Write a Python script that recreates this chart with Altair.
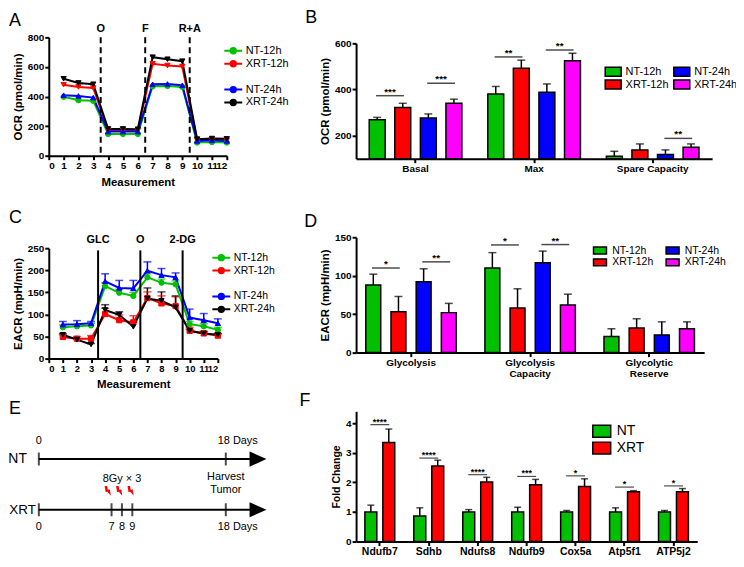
import altair as alt
import pandas as pd

FONT = "Liberation Sans"
GREEN = "#00c000"
RED = "#ff0000"
BLUE = "#0000ff"
MAGENTA = "#ff00ff"
BLACK = "#000000"

# ---------------- Panel A : OCR time course ----------------
measure = list(range(1, 13))
A_nt12 = [398, 375, 371, 147, 147, 147, 469, 471, 465, 89, 92, 89]
A_xrt12 = [480, 465, 458, 174, 174, 170, 621, 610, 603, 103, 107, 103]
A_nt24 = [409, 404, 393, 163, 163, 163, 483, 485, 476, 100, 104, 100]
A_xrt24 = [520, 492, 483, 181, 181, 179, 666, 652, 639, 112, 116, 114]
A_inj_x = [3.5, 6.5, 9.5]
A_inj_lab = ["O", "F", "R+A"]

# ---------------- Panel C : ECAR time course ----------------
C_nt12 = [71, 73, 75, 164, 149, 142, 184, 172, 168, 78, 73, 65]
C_nt12_err = [5, 5, 5, 8, 8, 8, 8, 8, 8, 6, 6, 6]
C_xrt12 = [49, 45, 45, 101, 87, 82, 137, 125, 119, 63, 57, 52]
C_xrt12_err = [5, 5, 7, 13, 12, 15, 14, 17, 21, 8, 5, 4]
C_nt24 = [77, 78, 80, 175, 160, 159, 199, 189, 184, 93, 87, 80]
C_nt24_err = [7, 8, 4, 17, 17, 18, 20, 15, 10, 19, 15, 10]
C_xrt24 = [54, 43, 32, 110, 99, 72, 136, 131, 116, 63, 57, 54]
C_xrt24_err = [3, 2, 2, 12, 7, 10, 24, 20, 26, 3, 3, 3]
C_inj_x = [3.5, 6.5, 9.5]
C_inj_lab = ["GLC", "O", "2-DG"]

series = ["NT-12h", "XRT-12h", "NT-24h", "XRT-24h"]
leg_dom = ["NT-12h", "XRT-12h", " ", "NT-24h", "XRT-24h"]

# ---------------- Panel B : OCR bars ----------------
B_groups = ["Basal", "Max", "Spare Capacity"]
B_basal = [269, 322, 276, 340]
B_basal_top = [279, 340, 294, 358]
B_max = [380, 492, 388, 524]
B_max_top = [413, 527, 424, 557]
B_spare = [111, 138, 118, 150]
B_spare_top = [132, 164, 138, 164]
B_sig_group = ["Basal", "Basal", "Max", "Max", "Spare Capacity"]
B_sig_pair = ["12h", "24h", "12h", "24h", "24h"]
B_sig_y = [373, 427, 541, 571, 188]
B_sig_txt = ["***", "***", "**", "**", "**"]

# ---------------- Panel D : ECAR bars ----------------
D_groups = ["Glycolysis", "Glycolysis Capacity", "Glycolytic Reserve"]
D_glyco = [88, 53, 92, 52]
D_glyco_top = [102, 73, 109, 64]
D_cap = [110, 58, 117, 62]
D_cap_top = [130, 83, 132, 76]
D_res = [21, 32, 23, 31]
D_res_top = [31, 44, 40, 40]
D_sig_group = ["Glycolysis", "Glycolysis", "Glycolysis Capacity", "Glycolysis Capacity"]
D_sig_pair = ["12h", "24h", "12h", "24h"]
D_sig_y = [110, 118, 140, 140.5]
D_sig_txt = ["*", "**", "*", "**"]

# ---------------- Panel F : fold change ----------------
F_genes = ["Ndufb7", "Sdhb", "Ndufs8", "Ndufb9", "Cox5a", "Atp5f1", "ATP5j2"]
F_nt = [1.0, 0.86, 1.0, 1.0, 1.0, 1.0, 1.0]
F_nt_top = [1.23, 1.14, 1.08, 1.16, 1.05, 1.14, 1.05]
F_xrt = [3.35, 2.55, 2.01, 1.92, 1.86, 1.68, 1.68]
F_xrt_top = [3.8, 2.75, 2.17, 2.10, 2.12, 1.72, 1.79]
F_sig_y = [3.95, 2.82, 2.26, 2.2, 2.22, 1.84, 1.88]
F_sig_txt = ["****", "****", "****", "***", "*", "*", "*"]

# ---------------- Panel E : schedule ----------------
E_rows = ["NT", "XRT"]
E_row_y = [1, 0]
E_end_day = 20.5
E_head_day = 21.1
E_tick_day = [0, 18, 0, 7, 8, 9, 18]
E_tick_row = [1, 1, 0, 0, 0, 0, 0]
E_above_lab = ["0"]
E_above_day = [0]
E_below_lab = ["0", "7", "8", "9"]
E_below_day = [0, 7, 8, 9]
E_days_lab = ["18 Days", "18 Days"]
E_days_day = [18, 18]
E_days_row = [1, 0]
E_bolt_day = [6.6, 7.7, 8.8]
E_dose_lab = "8Gy × 3"
E_dose_day = 8
E_harvest_lab = ["Harvest", "Tumor"]
E_harvest_day = 18

LINE_SYM = "M-2,0L2,0M0.6,0A0.6,0.6,0,1,1,-0.6,0A0.6,0.6,0,1,1,0.6,0"
BOLT = "M-0.55,-1L-0.05,-1L0.1,-0.2L0.5,-0.25L0.7,1L0.0,0.2L-0.35,0.25Z"
HEAD = "M-1,-0.9L1,0L-1,0.9Z"


def rect_sym(a):
    return f"M-{a},-1L{a},-1L{a},1L-{a},1Z"


def title(letter, dx, dy):
    return alt.TitleParams(letter, anchor="start", frame="group", fontSize=18,
                           fontWeight="normal", font=FONT, dx=dx, dy=dy, color="black")


def line_panel(vals_list, err_list, inj_x, inj_lab, inj_top, lab_y, ydom, yrange, yvals,
               ytitle, xoff, shapes, leg, dashed, width, height, xlab):
    has_err = err_list is not None
    errs_all = err_list if has_err else [[0] * 12 for _ in series]
    rows = []
    for name, vals, errs in zip(series, vals_list, errs_all):
        for m, v, e in zip(measure, vals, errs):
            rows.append({"m": m, "v": v, "s": name, "t": v + e, "sh": name})
    df = pd.DataFrame(rows)
    inj = pd.DataFrame({"m": inj_x, "lab": inj_lab, "v": [inj_top] * 3,
                        "lv": [lab_y] * 3, "b": [0] * 3})
    xsc = alt.Scale(domain=[0, 12], nice=False)
    xax = alt.Axis(values=list(range(13)), title="Measurement", offset=xoff, labelOverlap=False,
                   labelFontSize=xlab, titlePadding=6)
    ysc = alt.Scale(domain=ydom, range=yrange, nice=False)
    yax = alt.Axis(values=yvals, title=ytitle, labelOverlap=False)
    X = lambda f: alt.X(f, scale=xsc, axis=xax)
    Y = lambda f: alt.Y(f, scale=ysc, axis=yax)
    cols = [GREEN, RED, "transparent", BLUE, BLACK]
    csc = alt.Scale(domain=leg_dom, range=cols)
    shsc = alt.Scale(domain=series, range=shapes)
    layers = []
    if has_err:
        layers.append(alt.Chart(df).mark_rule(strokeWidth=1.5).encode(
            x=X("m:Q"), y=Y("v:Q"), y2="t:Q", stroke=alt.Stroke("s:N", scale=csc, legend=leg)))
        layers.append(alt.Chart(df).mark_tick(orient="horizontal", size=8, thickness=1.5).encode(
            x=X("m:Q"), y=Y("t:Q"), color=alt.Color("s:N", scale=csc, legend=None)))
    layers.append(alt.Chart(df).mark_line(strokeWidth=2).encode(
        x=X("m:Q"), y=Y("v:Q"), stroke=alt.Stroke("s:N", scale=csc, legend=leg)))
    layers.append(alt.Chart(df).mark_point(filled=True, size=28, opacity=1, strokeWidth=1).encode(
        x=X("m:Q"), y=Y("v:Q"),
        stroke=alt.Stroke("s:N", scale=csc, legend=leg),
        fill=alt.Fill("s:N", scale=csc, legend=leg),
        shape=alt.Shape("sh:N", scale=shsc, legend=None)))
    rule_kw = dict(strokeWidth=2, color="black")
    if dashed:
        rule_kw["strokeDash"] = [6, 4]
    layers.append(alt.Chart(inj).mark_rule(**rule_kw).encode(x=X("m:Q"), y=Y("v:Q"), y2="b:Q"))
    layers.append(alt.Chart(inj).mark_text(fontWeight="bold", fontSize=11, font=FONT, dy=-8).encode(
        x=X("m:Q"), y=Y("lv:Q"), text="lab:N"))
    return alt.layer(*layers).properties(width=width, height=height)


def legend_line(x, y, rp, fs):
    return alt.Legend(title=None, orient="none", legendX=x, legendY=y, symbolType=LINE_SYM,
                      symbolSize=81, symbolStrokeWidth=2, labelFontSize=fs, labelOffset=7,
                      rowPadding=rp, labelFont=FONT)


A_shapes = ["circle", "triangle-down", "triangle-up", "triangle-down"]
C_shapes = ["circle", "square", "triangle-up", "triangle-down"]

A_chart = line_panel([A_nt12, A_xrt12, A_nt24, A_xrt24], None, A_inj_x, A_inj_lab, 800, 800,
                     [0, 800], [119, 0], [0, 200, 400, 600, 800], "OCR (pmol/min)", -8,
                     A_shapes, legend_line(180, 8, -4, 11), True, 179, 127, 10)
A_chart = A_chart.properties(title=title("A", -40, 11))

C_chart = line_panel([C_nt12, C_xrt12, C_nt24, C_xrt24],
                     [C_nt12_err, C_xrt12_err, C_nt24_err, C_xrt24_err],
                     C_inj_x, C_inj_lab, 245, 250, [0, 250], [143, 32],
                     [0, 50, 100, 150, 200, 250], "EACR (mpH/min)", 0,
                     C_shapes, legend_line(168, 36, -5, 10.5), False, 170, 143, 9.5)
C_chart = C_chart.properties(title=title("C", -40, 15))

# ======================= bar panel helper =======================
BAR_COLS = [GREEN, RED, BLUE, MAGENTA]
OFF_DOM = ["NT-12h", "12h", "XRT-12h", "mid", "NT-24h", "24h", "XRT-24h"]


def bar_panel(groups, vals, tops, sig_g, sig_p, sig_y, sig_t, ydom, yrange, yvals, ytitle,
              xpi, xpo, width, height, xoff, leg, tick_len, label_expr, bar_w):
    rows = []
    for g, vv, tt in zip(groups, vals, tops):
        for c, v, t in zip(series, vv, tt):
            rows.append({"g": g, "c": c, "v": v, "t": t, "base": ydom[0]})
    df = pd.DataFrame(rows)
    sig = pd.DataFrame({"g": sig_g, "c": sig_p, "v": sig_y, "txt": sig_t})
    xs = alt.X("g:N", sort=groups, scale=alt.Scale(paddingInner=xpi, paddingOuter=xpo),
               axis=alt.Axis(title=None, labelAngle=0, offset=xoff, labelExpr=label_expr,
                             labelLineHeight=11))
    xo = alt.XOffset("c:N", scale=alt.Scale(domain=OFF_DOM, paddingInner=0, paddingOuter=0))
    ysc = alt.Scale(domain=ydom, range=yrange, nice=False)
    yax = alt.Axis(values=yvals, title=ytitle, labelOverlap=False)
    Y = lambda f: alt.Y(f, scale=ysc, axis=yax)
    bars = alt.Chart(df).mark_bar(size=bar_w, stroke="black", strokeWidth=1.5).encode(
        x=xs, xOffset=xo, y=Y("v:Q"), y2="base:Q",
        fill=alt.Fill("c:N", scale=alt.Scale(domain=series, range=BAR_COLS), legend=leg))
    err = alt.Chart(df).mark_rule(strokeWidth=1.5, color="black").encode(
        x=xs, xOffset=xo, y=Y("v:Q"), y2="t:Q")
    cap = alt.Chart(df).mark_tick(orient="horizontal", size=8, thickness=1.5, color="black").encode(
        x=xs, xOffset=xo, y=Y("t:Q"))
    sl = alt.Chart(sig).mark_tick(orient="horizontal", size=tick_len, thickness=1.5, color="black").encode(
        x=xs, xOffset=xo, y=Y("v:Q"))
    st = alt.Chart(sig).mark_text(fontSize=10, fontWeight="bold", font=FONT, dy=-4).encode(
        x=xs, xOffset=xo, y=Y("v:Q"), text="txt:N")
    return alt.layer(err, cap, bars, sl, st).properties(width=width, height=height)


B_leg = alt.Legend(title=None, orient="none", legendX=253, legendY=29, columns=2,
                   symbolType=rect_sym(1.78), symbolSize=81, symbolStrokeColor="black",
                   symbolStrokeWidth=1.5, labelFontSize=11, labelOffset=7, rowPadding=-5,
                   columnPadding=1, labelFont=FONT)
B_chart = bar_panel(B_groups, [B_basal, B_max, B_spare], [B_basal_top, B_max_top, B_spare_top],
                    B_sig_group, B_sig_pair, B_sig_y, B_sig_txt, [100, 600], [122, 6],
                    [200, 400, 600], "OCR (pmol/min)", 0.245, 0.124, 358, 127, -5, B_leg, 28,
                    "datum.label", 16).properties(title=title("B", -51, -6))

D_leg = alt.Legend(title=None, orient="none", legendX=240, legendY=29, columns=2,
                   symbolType=rect_sym(1.86), symbolSize=49, symbolStrokeColor="black",
                   symbolStrokeWidth=1.5, labelFontSize=10.5, labelOffset=7, rowPadding=-2,
                   columnPadding=9, labelFont=FONT)
D_chart = bar_panel(D_groups, [D_glyco, D_cap, D_res], [D_glyco_top, D_cap_top, D_res_top],
                    D_sig_group, D_sig_pair, D_sig_y, D_sig_txt, [0, 150], [137, 21],
                    [0, 50, 100, 150], "EACR (mpH/min)", 0.26, 0.0915, 350, 143, -6, D_leg, 28,
                    "split(datum.label, ' ')", 15).properties(title=title("D", -52, 19))

# ======================= Panel F =======================
F_rows = []
for g, a, at, b, bt in zip(F_genes, F_nt, F_nt_top, F_xrt, F_xrt_top):
    F_rows.append({"g": g, "c": "NT", "v": a, "t": at})
    F_rows.append({"g": g, "c": "XRT", "v": b, "t": bt})
F_df = pd.DataFrame(F_rows)
F_sig = pd.DataFrame({"g": F_genes, "c": ["mid"] * 7, "v": F_sig_y, "txt": F_sig_txt})
F_x = alt.X("g:N", sort=F_genes, scale=alt.Scale(paddingInner=0.45, paddingOuter=0.21),
            axis=alt.Axis(title=None, labelAngle=0, labelFontSize=10.5, labelPadding=1, tickSize=4))
F_xo = alt.XOffset("c:N", scale=alt.Scale(domain=["NT", "mid", "XRT"], paddingInner=0, paddingOuter=0))
F_ysc = alt.Scale(domain=[0, 4.4], nice=False)
F_yax = alt.Axis(values=[0, 1, 2, 3, 4], title="Fold Change", titleFontSize=10.5, labelOverlap=False)
F_Y = lambda f: alt.Y(f, scale=F_ysc, axis=F_yax)
F_leg = alt.Legend(title=None, orient="none", legendX=240, legendY=13,
                   symbolType=rect_sym(1.5), symbolSize=144, symbolStrokeColor="black",
                   symbolStrokeWidth=1.5, labelFontSize=14, labelOffset=8, rowPadding=-1,
                   labelFont=FONT)
F_bars = alt.Chart(F_df).mark_bar(size=12, stroke="black", strokeWidth=1.5).encode(
    x=F_x, xOffset=F_xo, y=F_Y("v:Q"),
    fill=alt.Fill("c:N", scale=alt.Scale(domain=["NT", "XRT"], range=[GREEN, RED]), legend=F_leg))
F_err = alt.Chart(F_df).mark_rule(strokeWidth=1.5, color="black").encode(
    x=F_x, xOffset=F_xo, y=F_Y("v:Q"), y2="t:Q")
F_cap = alt.Chart(F_df).mark_tick(orient="horizontal", size=7, thickness=1.5, color="black").encode(
    x=F_x, xOffset=F_xo, y=F_Y("t:Q"))
F_sl = alt.Chart(F_sig).mark_tick(orient="horizontal", size=19, thickness=1.2, color="black").encode(
    x=F_x, xOffset=F_xo, y=F_Y("v:Q"))
F_st = alt.Chart(F_sig).mark_text(fontSize=9, fontWeight="bold", font=FONT, dy=-3).encode(
    x=F_x, xOffset=F_xo, y=F_Y("v:Q"), text="txt:N")
F_chart = alt.layer(F_err, F_cap, F_bars, F_sl, F_st).properties(
    width=343, height=131, title=title("F", -57, 3))

# ======================= Panel E =======================
E_x_sc = alt.Scale(domain=[0, 18], range=[-10, 178], nice=False, zero=False)
E_y_sc = alt.Scale(domain=[0, 1], range=[99, 48], nice=False)
E_x = lambda f: alt.X(f, scale=E_x_sc, axis=None)
E_y = lambda f: alt.Y(f, scale=E_y_sc, axis=None)

E_line_df = pd.DataFrame({"row": E_rows, "y": E_row_y, "x0": [0, 0], "x1": [E_end_day] * 2,
                          "h": [E_head_day] * 2})
E_tick_df = pd.DataFrame({"d": E_tick_day, "y": E_tick_row})
E_lines = alt.Chart(E_line_df).mark_rule(strokeWidth=2, color="black").encode(
    x=E_x("x0:Q"), x2="x1:Q", y=E_y("y:Q"))
E_heads = alt.Chart(E_line_df).mark_point(shape=HEAD, size=289, filled=True, color="black",
                                          opacity=1).encode(x=E_x("h:Q"), y=E_y("y:Q"))
E_ticks = alt.Chart(E_tick_df).mark_tick(orient="vertical", size=13, thickness=2, color="black").encode(
    x=E_x("d:Q"), y=E_y("y:Q"))
E_nt_lab = alt.Chart(E_line_df.iloc[[0]]).mark_text(fontSize=14, font=FONT, align="right", dx=-12).encode(
    x=E_x("x0:Q"), y=E_y("y:Q"), text="row:N")
E_xrt_lab = alt.Chart(E_line_df.iloc[[1]]).mark_text(fontSize=13.5, font=FONT, align="right", dx=-3).encode(
    x=E_x("x0:Q"), y=E_y("y:Q"), text="row:N")
E_ab = alt.Chart(pd.DataFrame({"d": E_above_day, "lab": E_above_lab, "y": [1]})).mark_text(
    fontSize=11, font=FONT, dy=-18).encode(x=E_x("d:Q"), y=E_y("y:Q"), text="lab:N")
E_be = alt.Chart(pd.DataFrame({"d": E_below_day, "lab": E_below_lab, "y": [0] * 4})).mark_text(
    fontSize=11, font=FONT, dy=17).encode(x=E_x("d:Q"), y=E_y("y:Q"), text="lab:N")
E_days_above = alt.Chart(pd.DataFrame({"d": [E_days_day[0]], "lab": [E_days_lab[0]], "y": [E_days_row[0]]})).mark_text(
    fontSize=11, font=FONT, dy=-18, dx=12).encode(x=E_x("d:Q"), y=E_y("y:Q"), text="lab:N")
E_days_below = alt.Chart(pd.DataFrame({"d": [E_days_day[1]], "lab": [E_days_lab[1]], "y": [E_days_row[1]]})).mark_text(
    fontSize=11, font=FONT, dy=17, dx=12).encode(x=E_x("d:Q"), y=E_y("y:Q"), text="lab:N")
E_dose = alt.Chart(pd.DataFrame({"d": [E_dose_day], "lab": [E_dose_lab], "y": [0]})).mark_text(
    fontSize=11, font=FONT, dy=-31).encode(x=E_x("d:Q"), y=E_y("y:Q"), text="lab:N")
E_harv = alt.Chart(pd.DataFrame({"d": [E_harvest_day], "lab": [E_harvest_lab], "y": [0]})).mark_text(
    fontSize=11, font=FONT, dy=-33, lineHeight=13).encode(x=E_x("d:Q"), y=E_y("y:Q"), text="lab")
E_bolts = alt.Chart(pd.DataFrame({"d": E_bolt_day, "y": [0] * 3})).mark_point(
    shape=BOLT, size=100, filled=True, color=RED, opacity=1).encode(
    x=E_x("d:Q"), y=E_y("y:Q"), yOffset=alt.value(-19))
E_chart = alt.layer(E_lines, E_heads, E_ticks, E_nt_lab, E_xrt_lab, E_ab, E_be, E_days_above,
                    E_days_below, E_dose, E_harv, E_bolts).properties(
    width=186, height=131, title=title("E", -40, 11))

chart = alt.concat(A_chart, B_chart, C_chart, D_chart, E_chart, F_chart, columns=2,
                   spacing={"row": 53, "column": 123}).properties(
    bounds="flush", align="none", padding={"left": 0, "top": 0, "right": -2, "bottom": -1}
).resolve_scale(
    x="independent", y="independent", color="independent", fill="independent",
    stroke="independent", shape="independent", xOffset="independent"
).resolve_legend(
    color="independent", fill="independent", stroke="independent", shape="independent"
).configure(font=FONT, background="white").configure_view(strokeWidth=0).configure_axis(
    grid=False, domainColor="black", domainWidth=2, tickColor="black", tickWidth=2, tickSize=4,
    labelColor="black", labelFontWeight="bold", labelFontSize=10, labelFont=FONT, labelPadding=1,
    titleColor="black", titleFontWeight="bold", titleFontSize=11.5, titleFont=FONT
).configure_legend(labelColor="black", labelFont=FONT)

chart.save("out.html", embed_options={"renderer": "svg", "actions": False})
